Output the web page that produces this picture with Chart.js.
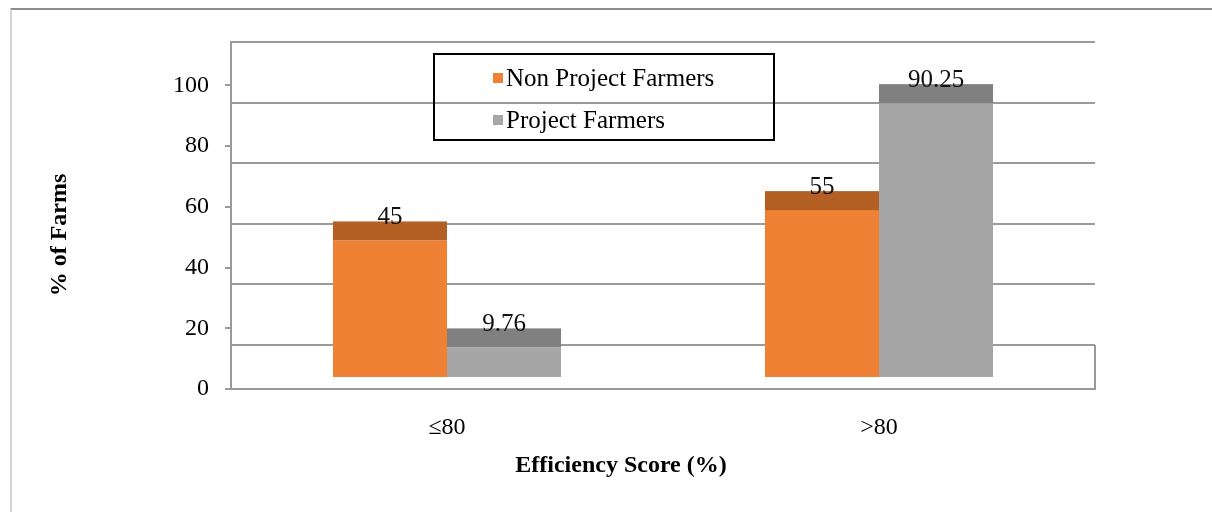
<!DOCTYPE html>
<html>
<head>
<meta charset="utf-8">
<script src="https://cdn.jsdelivr.net/npm/chart.js@4.4.1/dist/chart.umd.min.js"></script>
<style>
  html, body { margin: 0; padding: 0; background: #fff; overflow: hidden; }
  #wrap { position: relative; width: 1212px; height: 512px; }
  #frame { position: absolute; left: 10px; top: 8px; right: -10px; bottom: -10px;
           border-top: 2px solid #8c8c8c; border-left: 2px solid #d4d4d4; pointer-events: none; }
  canvas { position: absolute; left: 0; top: 0; }
</style>
</head>
<body>
<div id="wrap">
  <canvas id="c" width="1212" height="512"></canvas>
  <div id="frame"></div>
</div>
<script>
// ---- data ----
const categories = ['\u226480', '>80'];
const seriesNames = ['Non Project Farmers', 'Project Farmers'];
const nonProjectValues = [45, 55];
const projectValues = [9.76, 90.25];
const tickValues = [0, 20, 40, 60, 80, 100];
const xTitle = 'Efficiency Score (%)';
const yTitle = '% of Farms';

// ---- styles / axis geometry (3D perspective emulation) ----
const frontColors = ['#EF8134', '#A6A6A6'];
const topColors = ['#B45F24', '#808080'];
const SERIF = '"Liberation Serif", "Times New Roman", serif';
const DEPTH = 19;           // top-face depth in px
const FRONT_MIN = 0, FRONT_MAX = 114.3;   // tick-label axis (front edge)
const BACK_MIN = -14.5, BACK_MAX = 100;   // gridline axis (back wall)
const BAR_MIN = -3.95, BAR_MAX = 110.4;   // bar axis (mid depth)
const GRID = '#9a9a9a';

const bar3d = {
  id: 'bar3d',
  beforeDatasetsDraw(chart) {
    const { ctx, chartArea } = chart;
    const yb = chart.scales.yBack;
    ctx.save();
    ctx.strokeStyle = GRID;
    ctx.lineWidth = 2;
    ctx.beginPath();
    ctx.moveTo(chartArea.right, yb.getPixelForValue(0));
    ctx.lineTo(chartArea.right, chartArea.bottom);
    ctx.stroke();
    ctx.restore();
  },
  afterDatasetsDraw(chart) {
    const ctx = chart.ctx;
    ctx.save();
    const labels = [];
    chart.data.datasets.forEach((ds, i) => {
      const meta = chart.getDatasetMeta(i);
      meta.data.forEach((el, j) => {
        const { x, y, width } = el.getProps(['x', 'y', 'width'], true);
        ctx.fillStyle = topColors[i];
        ctx.fillRect(x - width / 2, y - DEPTH, width, DEPTH);
        labels.push([String(ds.data[j]), x, y - DEPTH + 3]);
      });
    });
    ctx.fillStyle = '#111';
    ctx.font = '25px ' + SERIF;
    ctx.textAlign = 'center';
    ctx.textBaseline = 'alphabetic';
    labels.forEach(([t, x, y]) => ctx.fillText(t, x, y));
    ctx.restore();
  },
  afterDraw(chart) {
    const ctx = chart.ctx;
    ctx.save();
    // legend
    ctx.strokeStyle = '#000';
    ctx.lineWidth = 2;
    ctx.strokeRect(434, 54, 340, 86);
    ctx.font = '25px ' + SERIF;
    ctx.textAlign = 'left';
    ctx.textBaseline = 'middle';
    chart.data.datasets.forEach((ds, i) => {
      const cy = 78 + i * 42;
      ctx.fillStyle = ds.backgroundColor;
      ctx.fillRect(493, cy - 5, 10, 10);
      ctx.fillStyle = '#000';
      ctx.fillText(ds.label, 506, cy + 1);
    });
    // axis titles
    ctx.fillStyle = '#000';
    ctx.font = 'bold 24px ' + SERIF;
    ctx.textAlign = 'center';
    ctx.textBaseline = 'middle';
    ctx.fillText(xTitle, 621, 466);
    ctx.translate(60, 235);
    ctx.rotate(-Math.PI / 2);
    ctx.fillText(yTitle, 0, 0);
    ctx.restore();
  }
};

new Chart(document.getElementById('c'), {
  type: 'bar',
  data: {
    labels: categories,
    datasets: [
      { label: seriesNames[0], data: nonProjectValues, backgroundColor: frontColors[0], yAxisID: 'yBar' },
      { label: seriesNames[1], data: projectValues, backgroundColor: frontColors[1], yAxisID: 'yBar' }
    ]
  },
  options: {
    responsive: false,
    animation: false,
    layout: { padding: { left: 0, top: 42, right: 117, bottom: 0 } },
    categoryPercentage: 0.528,
    barPercentage: 1.0,
    plugins: { legend: { display: false }, tooltip: { enabled: false } },
    scales: {
      x: {
        grid: { display: true, drawOnChartArea: false, drawTicks: false },
        border: { display: true, color: GRID, width: 2 },
        ticks: { color: '#000', font: { family: SERIF, size: 24 }, padding: 24 },
        afterFit(s) { s.height = 123; }
      },
      y: {
        position: 'left',
        min: FRONT_MIN, max: FRONT_MAX,
        afterBuildTicks(s) { s.ticks = tickValues.map(v => ({ value: v })); },
        grid: { drawOnChartArea: false, drawTicks: true, tickLength: 6, color: GRID, lineWidth: 2 },
        border: { display: true, color: GRID, width: 2 },
        ticks: { color: '#000', font: { family: SERIF, size: 24 }, padding: 16 },
        afterFit(s) { s.width = 231; }
      },
      yBack: {
        position: 'left',
        min: BACK_MIN, max: BACK_MAX,
        afterBuildTicks(s) { s.ticks = tickValues.map(v => ({ value: v })); },
        grid: { drawOnChartArea: true, drawTicks: false, color: GRID, lineWidth: 2 },
        border: { display: false },
        ticks: { display: false },
        afterFit(s) { s.width = 0; }
      },
      yBar: {
        display: false,
        min: BAR_MIN, max: BAR_MAX
      }
    }
  },
  plugins: [bar3d]
});
</script>
</body>
</html>
